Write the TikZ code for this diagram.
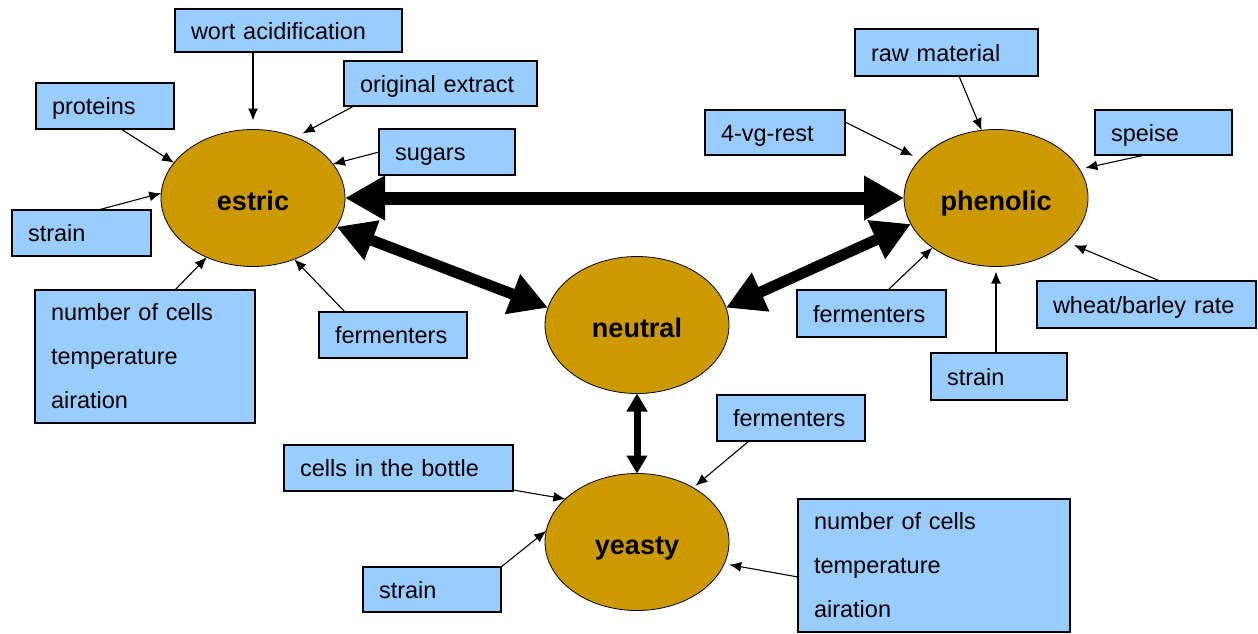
\documentclass[tikz,border=0pt]{standalone}
\usepackage{fontspec}
\setmainfont{Liberation Sans}
\usetikzlibrary{arrows.meta,shapes.geometric}
\definecolor{boxblue}{HTML}{99CCFF}
\definecolor{goldfill}{HTML}{CC9900}
\begin{document}
\begin{tikzpicture}[x=1pt,y=-1pt,
  bx/.style={draw=black, line width=1.6pt, fill=boxblue, anchor=north west,
    inner xsep=16pt, inner ysep=0pt, outer sep=0pt, align=left,
    font=\fontsize{23.5}{44}\selectfont},
  bxone/.style={bx, text height=20pt, text depth=3pt},
  ell/.style={ellipse, draw=black, line width=0.8pt, fill=goldfill,
    minimum width=184pt, minimum height=137pt, inner sep=0pt, outer sep=0pt,
    text height=28pt, text depth=4pt,
    font=\bfseries\fontsize{27}{32}\selectfont},
  feed/.style={draw=black, line width=1.1pt, -{Latex[length=12pt,width=10pt]}},
  mainlink/.style={line width=13pt, {Triangle[length=40pt,width=42pt]}-{Triangle[length=40pt,width=42pt]}},
  sidelink/.style={line width=11pt, {Triangle[length=38pt,width=40pt]}-{Triangle[length=38pt,width=40pt]}},
  vertlink/.style={line width=7pt, {Triangle[length=18pt,width=20pt]}-{Triangle[length=18pt,width=20pt]}}
]
\useasboundingbox (0,0) rectangle (1258,633);

% ellipses
\node[ell] (estric) at (253,198) {estric};
\node[ell] (phenolic) at (996,198) {phenolic};
\node[ell] (neutral) at (637,325) {neutral};
\node[ell] (yeasty) at (637,542) {yeasty};

% boxes
\node[bxone, text width=195pt, minimum height=43pt] (wort) at (175,9) {wort acidification};
\node[bxone, text width=161pt, minimum height=45pt] (orig) at (344,61) {original extract};
\node[bxone, text width=106pt, minimum height=46pt] (proteins) at (36,83) {proteins};
\node[bxone, text width=104pt, minimum height=46pt] (sugars) at (379,129) {sugars};
\node[bxone, text width=107pt, minimum height=46pt] (strainL) at (12,210) {strain};
\node[bx, text width=188pt, minimum height=133pt] (cellsL) at (35,290) {number of cells\\temperature\\airation};
\node[bxone, text width=116pt, minimum height=46pt] (fermL) at (319,312) {fermenters};
\node[bxone, text width=151pt, minimum height=47pt] (raw) at (855,29) {raw material};
\node[bxone, text width=108pt, minimum height=45pt] (vg) at (705,110) {4-vg-rest};
\node[bxone, text width=105pt, minimum height=45pt] (speise) at (1095,110) {speise};
\node[bxone, text width=117pt, minimum height=47pt] (fermR) at (797,290) {fermenters};
\node[bxone, text width=187pt, minimum height=47pt] (wheat) at (1037,281) {wheat/barley rate};
\node[bxone, text width=104pt, minimum height=47pt] (strainR) at (931,353) {strain};
\node[bxone, text width=116pt, minimum height=46pt] (fermB) at (717,395) {fermenters};
\node[bxone, text width=197pt, minimum height=46pt] (bottle) at (284,445) {cells in the bottle};
\node[bxone, text width=106pt, minimum height=45pt] (strainB) at (363,567) {strain};
\node[bx, text width=240pt, minimum height=133pt] (cellsR) at (798,499) {number of cells\\temperature\\airation};

% thin arrows to estric
\draw[feed, shorten >=9pt] (wort.south -| estric.north) -- (estric.north);
\draw[feed, shorten >=8pt] ([xshift=10pt]orig.south west) -- (estric.55);
\draw[feed] ([xshift=85pt]proteins.south west) -- (estric.156);
\draw[feed] (sugars.west) -- (estric.23);
\draw[feed] ([xshift=86pt]strainL.north west) -- (estric.177);
\draw[feed] ([xshift=140pt]cellsL.north west) -- (estric.232);
\draw[feed] ([xshift=26pt]fermL.north west) -- (estric.304);

% thin arrows to phenolic
\draw[feed] ([xshift=104pt]raw.south west) -- (phenolic.102);
\draw[feed, shorten >=8pt] ([yshift=-12pt]vg.north east) -- (phenolic.153);
\draw[feed, shorten >=6pt] ([xshift=50pt]speise.south west) -- (phenolic.19);
\draw[feed] ([xshift=91pt]fermR.north west) -- (phenolic.218);
\draw[feed, shorten >=8pt] ([xshift=123pt]wheat.north west) -- (phenolic.328);
\draw[feed, shorten >=5pt] (strainR.north -| phenolic.south) -- (phenolic.south);

% thin arrows to yeasty
\draw[feed, shorten >=3pt] ([xshift=32pt]fermB.south west) -- (yeasty.44);
\draw[feed] ([yshift=1pt]bottle.south east) -- (yeasty.149);
\draw[feed] (strainB.north east) -- (yeasty.173);
\draw[feed, shorten >=5pt] ([yshift=-78pt]cellsR.north west) -- (yeasty.346);

% thick links
\draw[mainlink] (estric.east) -- (phenolic.west);
\draw[sidelink] (estric.-19) -- (neutral.169);
\draw[sidelink] (neutral.11) -- (phenolic.197);
\draw[vertlink] (neutral.south) -- (yeasty.north);
\end{tikzpicture}
\end{document}
